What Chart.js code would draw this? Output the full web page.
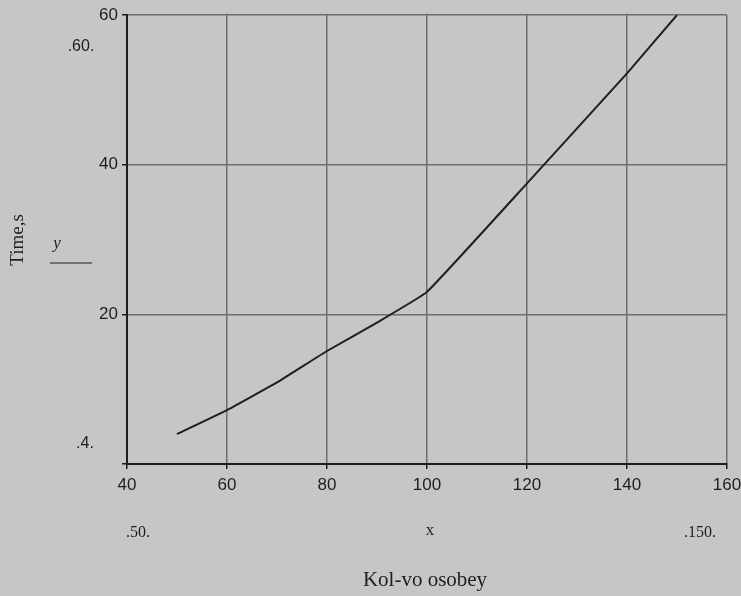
<!DOCTYPE html>
<html>
<head>
<meta charset="utf-8">
<script src="https://cdn.jsdelivr.net/npm/chart.js@4.4.0/dist/chart.umd.min.js"></script>
<style>
    html, body { margin: 0; padding: 0; background: #c6c6c6; }
    #chart { display: block; }
</style>
</head>
<body>
<canvas id="chart" width="741" height="596"></canvas>
<script>
// Data
const xValues = [50, 60, 70, 80, 90, 100, 120, 140, 150];
const yValues = [4, 7.2, 10.9, 15.1, 18.9, 23, 37.5, 52.2, 60];
const xTicks = [40, 60, 80, 100, 120, 140, 160];
const yTicks = [0, 20, 40, 60];

const paperColor = '#c6c6c6';
const gridColor = '#6e6e6e';
const inkColor = '#1e1e1e';

/**
 * Paper background and the Mathcad style labels around the plot
 */
const paperPlugin = {
    id: 'paper',
    beforeDraw(chart) {
        const ctx = chart.ctx;
        ctx.save();
        ctx.fillStyle = paperColor;
        ctx.fillRect(0, 0, chart.width, chart.height);
        ctx.restore();
    },
    afterDraw(chart) {
        const ctx = chart.ctx;
        const area = chart.chartArea;
        const yMax = Math.max(...yValues);
        const yMin = Math.min(...yValues);
        const xMin = Math.min(...xValues);
        const xMax = Math.max(...xValues);

        ctx.save();
        ctx.fillStyle = inkColor;
        ctx.strokeStyle = inkColor;
        ctx.textBaseline = 'middle';
        ctx.textAlign = 'center';

        // range markers
        ctx.font = '16px "Liberation Sans", Arial, sans-serif';
        ctx.fillText('.' + yMax + '.', area.left - 46, area.top + 32);
        ctx.fillText('.' + yMin + '.', area.left - 42, area.bottom - 20);
        ctx.font = '16px "Liberation Serif", serif';
        ctx.fillText('.' + xMin + '.', area.left + 11, 533);
        ctx.fillText('.' + xMax + '.', area.left + 573, 533);

        // variable names
        ctx.font = 'italic 17px "Liberation Serif", serif';
        ctx.fillText('y', area.left - 70, 244);
        ctx.lineWidth = 1.2;
        ctx.beginPath();
        ctx.moveTo(area.left - 77, 263);
        ctx.lineTo(area.left - 35, 263);
        ctx.stroke();
        ctx.font = '17px "Liberation Serif", serif';
        ctx.fillText('x', area.left + 303, 531);

        // axis titles
        ctx.font = '21px "Liberation Serif", serif';
        ctx.fillText('Kol-vo osobey', area.left + 298, 580);
        ctx.translate(18, 240);
        ctx.rotate(-Math.PI / 2);
        ctx.font = '19px "Liberation Serif", serif';
        ctx.fillText('Time,s', 0, 0);
        ctx.restore();
    }
};

const ctx = document.getElementById('chart').getContext('2d');
new Chart(ctx, {
    type: 'scatter',
    data: {
        datasets: [{
            data: xValues.map((x, i) => ({ x: x, y: yValues[i] })),
            showLine: true,
            borderColor: inkColor,
            borderWidth: 2,
            pointRadius: 0,
            tension: 0.1,
            fill: false
        }]
    },
    options: {
        responsive: false,
        animation: false,
        layout: {
            padding: { top: 15, right: 14, left: 0, bottom: 0 }
        },
        plugins: {
            legend: { display: false },
            tooltip: { enabled: false }
        },
        scales: {
            x: {
                type: 'linear',
                min: 40,
                max: 160,
                afterBuildTicks: scale => {
                    scale.ticks = xTicks.map(v => ({ value: v }));
                },
                afterFit: scale => {
                    scale.height = 132;
                    // the last label runs off the page, as in the original
                    scale.paddingRight = 0;
                    scale.paddingLeft = 0;
                },
                grid: {
                    color: gridColor,
                    lineWidth: 1.5,
                    tickLength: 5,
                    tickColor: inkColor
                },
                border: { color: inkColor, width: 2 },
                ticks: {
                    color: inkColor,
                    padding: 6,
                    maxRotation: 0,
                    autoSkip: false,
                    font: { family: '"Liberation Sans", Arial, sans-serif', size: 17 }
                }
            },
            y: {
                min: 0,
                max: 60,
                afterBuildTicks: scale => {
                    scale.ticks = yTicks.map(v => ({ value: v }));
                },
                afterFit: scale => {
                    scale.width = 127;
                    scale.paddingTop = 0;
                },
                grid: {
                    color: gridColor,
                    lineWidth: 1.5,
                    tickLength: 5,
                    tickColor: inkColor
                },
                border: { color: inkColor, width: 2 },
                ticks: {
                    color: inkColor,
                    padding: 4,
                    font: { family: '"Liberation Sans", Arial, sans-serif', size: 17 },
                    callback: value => value === 0 ? '' : value
                }
            }
        }
    },
    plugins: [paperPlugin]
});
</script>
</body>
</html>
